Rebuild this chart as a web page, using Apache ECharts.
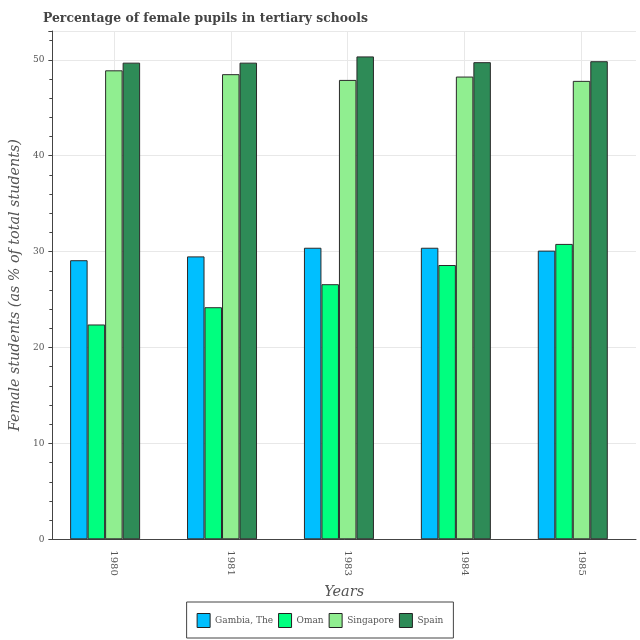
<!DOCTYPE html>
<html>
<head>
<meta charset="utf-8">
<script src="https://cdn.jsdelivr.net/npm/echarts@6/dist/echarts.min.js"></script>
<style>html,body{margin:0;padding:0;background:#fff}#c{width:640px;height:640px}</style>
</head>
<body>
<div id="c"></div>
<script>
const years = ['1980', '1981', '1983', '1984', '1985'];
const gambia = [29.1, 29.5, 30.4, 30.4, 30.1];
const oman = [22.4, 24.2, 26.6, 28.6, 30.8];
const singapore = [48.9, 48.5, 47.9, 48.25, 47.8];
const spain = [49.7, 49.7, 50.35, 49.75, 49.85];
const yTicks = { min: 0, max: 53, interval: 10 };

const serif = 'DejaVu Serif';
const chart = echarts.init(document.getElementById('c'));
const gridLinePositions = [];
for (let i = 0; i <= years.length * 2; i++) gridLinePositions.push(String(i));

function bar(name, data, color) {
  return {
    name: name, type: 'bar', data: data, xAxisIndex: 0, yAxisIndex: 0,
    barWidth: 17.5, barGap: '0%',
    itemStyle: { color: color, borderColor: '#2a2a2a', borderWidth: 1 },
    emphasis: { disabled: true }
  };
}

chart.setOption({
  animation: false,
  title: {
    text: 'Percentage of female pupils in tertiary schools',
    left: 38, top: 8,
    textStyle: { fontFamily: serif, fontWeight: 'bold', fontSize: 12.4, color: '#444' }
  },
  legend: {
    data: ['Gambia, The', 'Oman', 'Singapore', 'Spain'],
    left: 'center', top: 602,
    icon: 'rect', itemWidth: 13, itemHeight: 14, itemGap: 5,
    borderColor: '#444', borderWidth: 1, padding: [11, 10, 10, 10],
    textStyle: { fontFamily: serif, fontSize: 9, color: '#555' },
    itemStyle: { borderColor: '#222', borderWidth: 1 }
  },
  grid: [
    { left: 55.4, width: 586.3, top: 31, height: 508.3, containLabel: false },
    { left: 43, width: 593, top: 31, height: 508.3, containLabel: false }
  ],
  xAxis: [
    {
      type: 'category', gridIndex: 0, data: years,
      axisLine: { show: false },
      axisTick: { alignWithLabel: true, length: 5, lineStyle: { color: '#333' } },
      axisLabel: { rotate: -90, margin: 11, fontFamily: serif, fontSize: 10, color: '#555' },
      splitLine: { show: false }
    },
    {
      type: 'category', gridIndex: 0, data: gridLinePositions, boundaryGap: false,
      axisLine: { show: false }, axisTick: { show: false }, axisLabel: { show: false },
      splitLine: { show: true, interval: function (i) { return i % 2 === 1; }, lineStyle: { color: '#e8e8e8' } }
    },
    {
      type: 'value', gridIndex: 1, min: 0, max: 1,
      axisLine: { show: true, lineStyle: { color: '#444' } },
      axisTick: { show: false }, axisLabel: { show: false }, splitLine: { show: false },
      name: 'Years', nameLocation: 'middle', nameGap: 45,
      nameTextStyle: { fontFamily: serif, fontStyle: 'italic', fontSize: 14.5, color: '#555' }
    }
  ],
  yAxis: [
    { type: 'value', gridIndex: 0, min: yTicks.min, max: yTicks.max, show: false, splitLine: { show: false } },
    {
      type: 'value', gridIndex: 1, min: yTicks.min, max: yTicks.max, interval: yTicks.interval,
      axisLine: { show: true, lineStyle: { color: '#444' } },
      axisTick: { show: true, length: 4, lineStyle: { color: '#444' } },
      minorTick: { show: true, splitNumber: 5, length: 3, lineStyle: { color: '#444' } },
      axisLabel: { fontFamily: serif, fontSize: 9, color: '#555', margin: 8, showMaxLabel: false },
      splitLine: { show: true, lineStyle: { color: '#e8e8e8' } },
      name: 'Female students (as % of total students)', nameLocation: 'middle', nameGap: 28,
      nameTextStyle: { fontFamily: serif, fontStyle: 'italic', fontSize: 14.3, color: '#555' }
    }
  ],
  series: [
    bar('Gambia, The', gambia, '#00bfff'),
    bar('Oman', oman, '#00ff7f'),
    bar('Singapore', singapore, '#90ee90'),
    bar('Spain', spain, '#2e8b57'),
    { name: 'spacer', type: 'bar', data: years.map(function () { return '-'; }), xAxisIndex: 0, yAxisIndex: 0, barWidth: 17.5, barGap: '0%' }
  ]
});
</script>
</body>
</html>
